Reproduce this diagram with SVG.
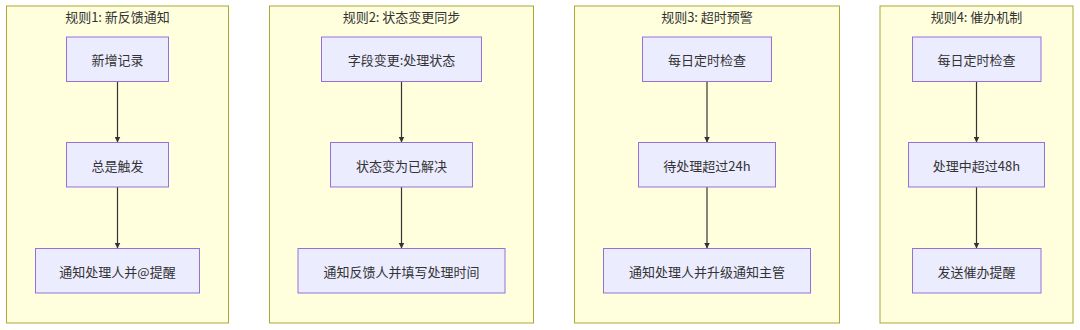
<svg xmlns="http://www.w3.org/2000/svg" width="1080" height="330" viewBox="0 0 1080 330">
<defs>
<style>
.cluster{fill:#ffffde;stroke:#aaaa33;stroke-width:1}
.node rect{fill:#ececff;stroke:#9370db;stroke-width:1}
text{font-family:"Noto Sans CJK SC","Noto Sans",sans-serif;font-size:13px;fill:#333333;text-anchor:middle;dominant-baseline:central}
.edge{stroke:#333333;stroke-width:1.2;fill:none;marker-end:url(#arr)}
</style>
<marker id="arr" viewBox="0 0 10 10" refX="10" refY="5" markerWidth="6" markerHeight="6" orient="auto" markerUnits="userSpaceOnUse">
<path d="M0,0 L10,5 L0,10 z" fill="#333333"/>
</marker>
</defs>
<rect width="1080" height="330" fill="#ffffff"/>
<g id="cluster1">
<rect class="cluster" x="6.5" y="6" width="222" height="317"/>
<text x="117.5" y="16">规则1: 新反馈通知</text>
</g>
<g id="cluster2">
<rect class="cluster" x="269.5" y="6" width="264" height="317"/>
<text x="401.5" y="16">规则2: 状态变更同步</text>
</g>
<g id="cluster3">
<rect class="cluster" x="574.5" y="6" width="265" height="317"/>
<text x="707" y="16">规则3: 超时预警</text>
</g>
<g id="cluster4">
<rect class="cluster" x="880" y="6" width="193" height="317"/>
<text x="976.5" y="16">规则4: 催办机制</text>
</g>
<g id="edges">
<path class="edge" d="M117.5,81.5 V142.5"/>
<path class="edge" d="M117.5,187 V248.5"/>
<path class="edge" d="M401.5,81.5 V142.5"/>
<path class="edge" d="M401.5,187 V248.5"/>
<path class="edge" d="M707,81.5 V142.5"/>
<path class="edge" d="M707,187 V248.5"/>
<path class="edge" d="M976.5,81.5 V142.5"/>
<path class="edge" d="M976.5,187 V248.5"/>
</g>
<g id="r1n1" class="node"><rect x="66.5" y="37" width="102" height="44.5"/><text x="117.5" y="59.5">新增记录</text></g>
<g id="r1n2" class="node"><rect x="66.5" y="142.5" width="102" height="44.5"/><text x="117.5" y="165">总是触发</text></g>
<g id="r1n3" class="node"><rect x="35.5" y="248.5" width="164" height="44.5"/><text x="117.5" y="271">通知处理人并@提醒</text></g>
<g id="r2n1" class="node"><rect x="321.5" y="37" width="160" height="44.5"/><text x="401.5" y="59.5">字段变更:处理状态</text></g>
<g id="r2n2" class="node"><rect x="330.5" y="142.5" width="142" height="44.5"/><text x="401.5" y="165">状态变为已解决</text></g>
<g id="r2n3" class="node"><rect x="298" y="248.5" width="207" height="44.5"/><text x="401.5" y="271">通知反馈人并填写处理时间</text></g>
<g id="r3n1" class="node"><rect x="642.5" y="37" width="129" height="44.5"/><text x="707" y="59.5">每日定时检查</text></g>
<g id="r3n2" class="node"><rect x="638.5" y="142.5" width="137" height="44.5"/><text x="707" y="165">待处理超过24h</text></g>
<g id="r3n3" class="node"><rect x="603.5" y="248.5" width="207" height="44.5"/><text x="707" y="271">通知处理人并升级通知主管</text></g>
<g id="r4n1" class="node"><rect x="912.5" y="37" width="128.5" height="44.5"/><text x="976.5" y="59.5">每日定时检查</text></g>
<g id="r4n2" class="node"><rect x="908.5" y="142.5" width="136" height="44.5"/><text x="976.5" y="165">处理中超过48h</text></g>
<g id="r4n3" class="node"><rect x="912.5" y="248.5" width="128.5" height="44.5"/><text x="976.5" y="271">发送催办提醒</text></g>
</svg>
